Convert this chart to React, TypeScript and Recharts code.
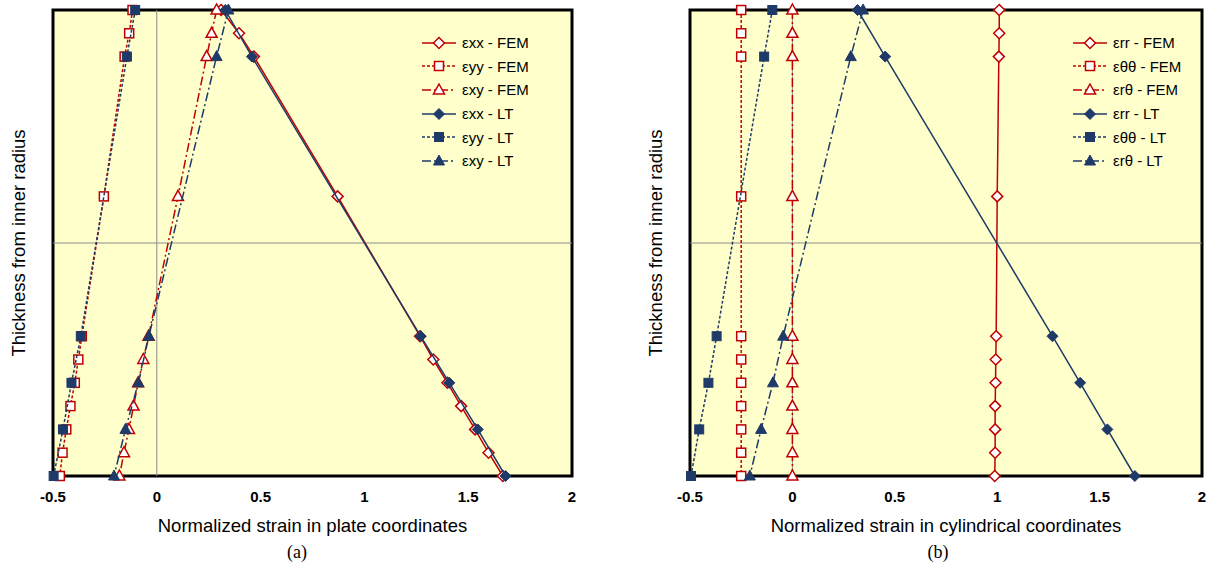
import React from "react";
import {
  ScatterChart,
  Scatter,
  XAxis,
  YAxis,
  CartesianGrid,
  ReferenceLine,
  ReferenceArea,
  Legend,
} from "recharts";

const FONT = "'Liberation Sans', Arial, sans-serif";
const RED = "#C00000";
const BLUE = "#1F3A68";

// thickness levels (hidden y axis, mid-plane at 0)
const FEM_T = [0.5, 0.45, 0.4, 0.1, -0.2, -0.25, -0.3, -0.35, -0.4, -0.45, -0.5];
const LT_T = [0.5, 0.4, -0.2, -0.3, -0.4, -0.5];

const X_TICKS = [-0.5, 0, 0.5, 1, 1.5, 2];
const Y_TICKS = [-0.5, -0.4, -0.3, -0.2, -0.1, 0, 0.1, 0.2, 0.3, 0.4, 0.5];

// (a) plate coordinates
const plateExxFem = [0.31, 0.396, 0.468, 0.871, 1.268, 1.332, 1.4, 1.466, 1.533, 1.598, 1.667];
const plateEyyFem = [-0.117, -0.133, -0.155, -0.255, -0.361, -0.378, -0.395, -0.416, -0.436, -0.454, -0.467];
const plateExyFem = [0.288, 0.264, 0.24, 0.102, -0.04, -0.065, -0.09, -0.112, -0.134, -0.158, -0.18];
const plateExxLt = [0.33, 0.458, 1.271, 1.409, 1.546, 1.68];
const plateEyyLt = [-0.104, -0.144, -0.366, -0.411, -0.452, -0.497];
const plateExyLt = [0.345, 0.288, -0.038, -0.089, -0.151, -0.206];

// (b) cylindrical coordinates
const cylErrFem = [1.01, 1.01, 1.008, 1.0, 0.995, 0.993, 0.992, 0.99, 0.99, 0.99, 0.988];
const cylEttFem = [-0.25, -0.25, -0.25, -0.25, -0.25, -0.25, -0.25, -0.25, -0.25, -0.25, -0.25];
const cylErtFem = [0, 0, 0, 0, 0, 0, 0, 0, 0, 0, 0];
const cylErrLt = [0.318, 0.453, 1.27, 1.405, 1.538, 1.672];
const cylEttLt = [-0.098, -0.138, -0.37, -0.41, -0.455, -0.495];
const cylErtLt = [0.345, 0.285, -0.045, -0.095, -0.153, -0.208];

type Kind = "diamond" | "square" | "triangle";

interface Series {
  name: string;
  values: number[];
  levels: number[];
  kind: Kind;
  color: string;
  dash?: string;
  open: boolean;
}

const DASH_SHORT = "3 2";
const DASH_DOT = "9 3 2 3";

const mk = (
  name: string,
  values: number[],
  levels: number[],
  kind: Kind,
  color: string,
  dash: string | undefined,
  open: boolean
): Series => ({ name, values, levels, kind, color, dash, open });

const plateSeries: Series[] = [
  mk("εxx - FEM", plateExxFem, FEM_T, "diamond", RED, undefined, true),
  mk("εyy - FEM", plateEyyFem, FEM_T, "square", RED, DASH_SHORT, true),
  mk("εxy - FEM", plateExyFem, FEM_T, "triangle", RED, DASH_DOT, true),
  mk("εxx - LT", plateExxLt, LT_T, "diamond", BLUE, undefined, false),
  mk("εyy - LT", plateEyyLt, LT_T, "square", BLUE, DASH_SHORT, false),
  mk("εxy - LT", plateExyLt, LT_T, "triangle", BLUE, DASH_DOT, false),
];

const cylSeries: Series[] = [
  mk("εrr - FEM", cylErrFem, FEM_T, "diamond", RED, undefined, true),
  mk("εθθ - FEM", cylEttFem, FEM_T, "square", RED, DASH_SHORT, true),
  mk("εrθ - FEM", cylErtFem, FEM_T, "triangle", RED, DASH_DOT, true),
  mk("εrr - LT", cylErrLt, LT_T, "diamond", BLUE, undefined, false),
  mk("εθθ - LT", cylEttLt, LT_T, "square", BLUE, DASH_SHORT, false),
  mk("εrθ - LT", cylErtLt, LT_T, "triangle", BLUE, DASH_DOT, false),
];

function Marker({ kind, cx, cy, color, open }: { kind: Kind; cx: number; cy: number; color: string; open: boolean }) {
  const fill = open ? "#fff" : color;
  const sw = open ? 1.5 : 1;
  if (kind === "diamond") {
    return (
      <polygon
        points={`${cx},${cy - 5.5} ${cx + 5.5},${cy} ${cx},${cy + 5.5} ${cx - 5.5},${cy}`}
        fill={fill}
        stroke={color}
        strokeWidth={sw}
      />
    );
  }
  if (kind === "square") {
    return <rect x={cx - 4.5} y={cy - 4.5} width={9} height={9} fill={fill} stroke={color} strokeWidth={sw} />;
  }
  return (
    <polygon
      points={`${cx},${cy - 6} ${cx + 5.5},${cy + 4} ${cx - 5.5},${cy + 4}`}
      fill={fill}
      stroke={color}
      strokeWidth={sw}
    />
  );
}

function LegendBox({ series }: { series: Series[] }) {
  return (
    <div style={{ fontFamily: FONT, fontSize: 15, color: "#000" }}>
      {series.map((s) => (
        <div key={s.name} style={{ display: "flex", alignItems: "center", height: 23.6 }}>
          <svg width={34} height={14} style={{ marginRight: 6 }}>
            <line x1={0} y1={7} x2={34} y2={7} stroke={s.color} strokeWidth={1.5} strokeDasharray={s.dash} />
            <Marker kind={s.kind} cx={17} cy={7} color={s.color} open={s.open} />
          </svg>
          <span>{s.name}</span>
        </div>
      ))}
    </div>
  );
}

interface PanelProps {
  left: number;
  width: number;
  marginLeft: number;
  marginRight: number;
  series: Series[];
  xTitle: string;
  caption: string;
  captionX: number;
  legendLeft: number;
}

function Panel({ left, width, marginLeft, marginRight, series, xTitle, caption, captionX, legendLeft }: PanelProps) {
  return (
    <div style={{ position: "absolute", left, top: 0, width, height: 573 }}>
      <ScatterChart
        width={width}
        height={540}
        margin={{ top: 10, right: marginRight, bottom: 4, left: marginLeft }}
      >
        <CartesianGrid
          vertical={false}
          stroke="#E2E2B8"
          fill="#FFFFCC"
          fillOpacity={1}
          horizontalValues={Y_TICKS}
        />
        <XAxis
          type="number"
          dataKey="x"
          domain={[-0.5, 2]}
          ticks={X_TICKS}
          axisLine={false}
          tickLine={false}
          tickMargin={9}
          height={60}
          tick={{ fontSize: 15, fontWeight: "bold", fill: "#000", fontFamily: FONT }}
          label={{
            value: xTitle,
            position: "insideBottom",
            offset: 4,
            style: { fontSize: 18.5, fill: "#000", fontFamily: FONT },
          }}
        />
        <YAxis
          type="number"
          dataKey="y"
          domain={[-0.5, 0.5]}
          ticks={Y_TICKS}
          tick={false}
          axisLine={false}
          tickLine={false}
          width={45}
          label={{
            value: "Thickness from inner radius",
            angle: -90,
            position: "center",
            dx: -12,
            style: { fontSize: 18.5, fill: "#000", fontFamily: FONT },
          }}
        />
        <ReferenceLine x={0} stroke="#8C8C8C" strokeWidth={1} />
        <ReferenceLine y={0} stroke="#8C8C8C" strokeWidth={1} />
        {series.map((s) => (
          <Scatter
            key={s.name}
            name={s.name}
            data={s.values.map((v, i) => ({ x: v, y: s.levels[i] }))}
            fill={s.color}
            line={{ stroke: s.color, strokeWidth: 1.5, strokeDasharray: s.dash }}
            lineType="joint"
            isAnimationActive={false}
            shape={(p: any) => <Marker kind={s.kind} cx={p.cx} cy={p.cy} color={s.color} open={s.open} />}
          />
        ))}
        <ReferenceArea
          x1={-0.5}
          x2={2}
          y1={-0.5}
          y2={0.5}
          fill="none"
          fillOpacity={0}
          stroke="#000"
          strokeWidth={3}
          ifOverflow="visible"
        />
        <Legend
          layout="vertical"
          verticalAlign="middle"
          align="center"
          wrapperStyle={{ left: legendLeft, top: 31, right: "auto", width: "auto" }}
          content={() => <LegendBox series={series} />}
        />
      </ScatterChart>
      <div
        style={{
          position: "absolute",
          left: captionX - left,
          top: 542,
          transform: "translateX(-50%)",
          fontFamily: "'Liberation Serif', 'Times New Roman', serif",
          fontSize: 18,
        }}
      >
        {caption}
      </div>
    </div>
  );
}

export default function App() {
  return (
    <div style={{ position: "absolute", left: 0, top: 0, width: 1220, height: 573, background: "#fff" }}>
      <Panel
        left={0}
        width={600}
        marginLeft={8}
        marginRight={28}
        series={plateSeries}
        xTitle="Normalized strain in plate coordinates"
        caption="(a)"
        captionX={297}
        legendLeft={422}
      />
      <Panel
        left={630}
        width={590}
        marginLeft={15}
        marginRight={18}
        series={cylSeries}
        xTitle="Normalized strain in cylindrical coordinates"
        caption="(b)"
        captionX={938}
        legendLeft={443}
      />
    </div>
  );
}
